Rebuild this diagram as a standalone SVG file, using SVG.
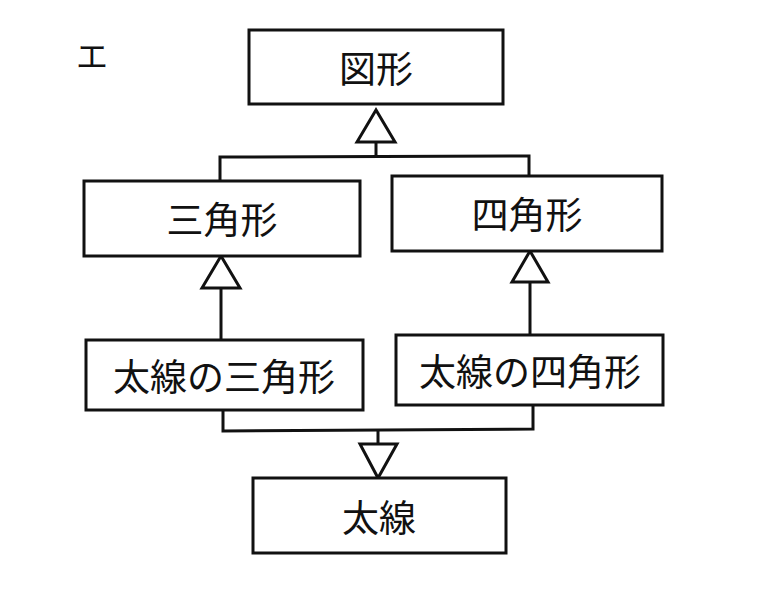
<svg xmlns="http://www.w3.org/2000/svg" width="780" height="592" viewBox="0 0 780 592">
<style>
.b{fill:#fff;stroke:#111;stroke-width:3}
.l{fill:none;stroke:#111;stroke-width:3}
.t{font-family:"Noto Sans CJK JP",sans-serif;font-size:37px;fill:#111;text-anchor:middle;dominant-baseline:central}
</style>
<rect width="780" height="592" fill="#fff"/>
<text x="92" y="54" class="t" style="font-size:32px">エ</text>
<g id="connectors">
<polyline class="l" points="220,181 220,157 529,156 529,177"/>
<line class="l" x1="376" y1="157" x2="376" y2="142"/>
<polygon class="b" points="376,110 357,142 395,142"/>
<line class="l" x1="221" y1="340" x2="221" y2="288"/>
<polygon class="b" points="221,256 202,288 240,288"/>
<line class="l" x1="530" y1="335" x2="530" y2="282"/>
<polygon class="b" points="530,251 512,282 548,282"/>
<polyline class="l" points="223,410 223,431 533,429 533,405"/>
<line class="l" x1="378" y1="430" x2="378" y2="444"/>
<polygon class="b" points="360,444 397,444 378,478"/>
</g>
<g id="zukei"><rect class="b" x="249" y="30" width="254" height="74"/><text class="t" x="376" y="67">図形</text></g>
<g id="sankaku"><rect class="b" x="84" y="181" width="276" height="75"/><text class="t" x="222" y="218">三角形</text></g>
<g id="shikaku"><rect class="b" x="392" y="176" width="270" height="75"/><text class="t" x="527" y="213">四角形</text></g>
<g id="futosen-sankaku"><rect class="b" x="86" y="340" width="277" height="70"/><text class="t" x="224" y="375">太線の三角形</text></g>
<g id="futosen-shikaku"><rect class="b" x="396" y="335" width="267" height="70"/><text class="t" x="530" y="370">太線の四角形</text></g>
<g id="futosen"><rect class="b" x="253" y="478" width="253" height="75"/><text class="t" x="379" y="516">太線</text></g>
</svg>
